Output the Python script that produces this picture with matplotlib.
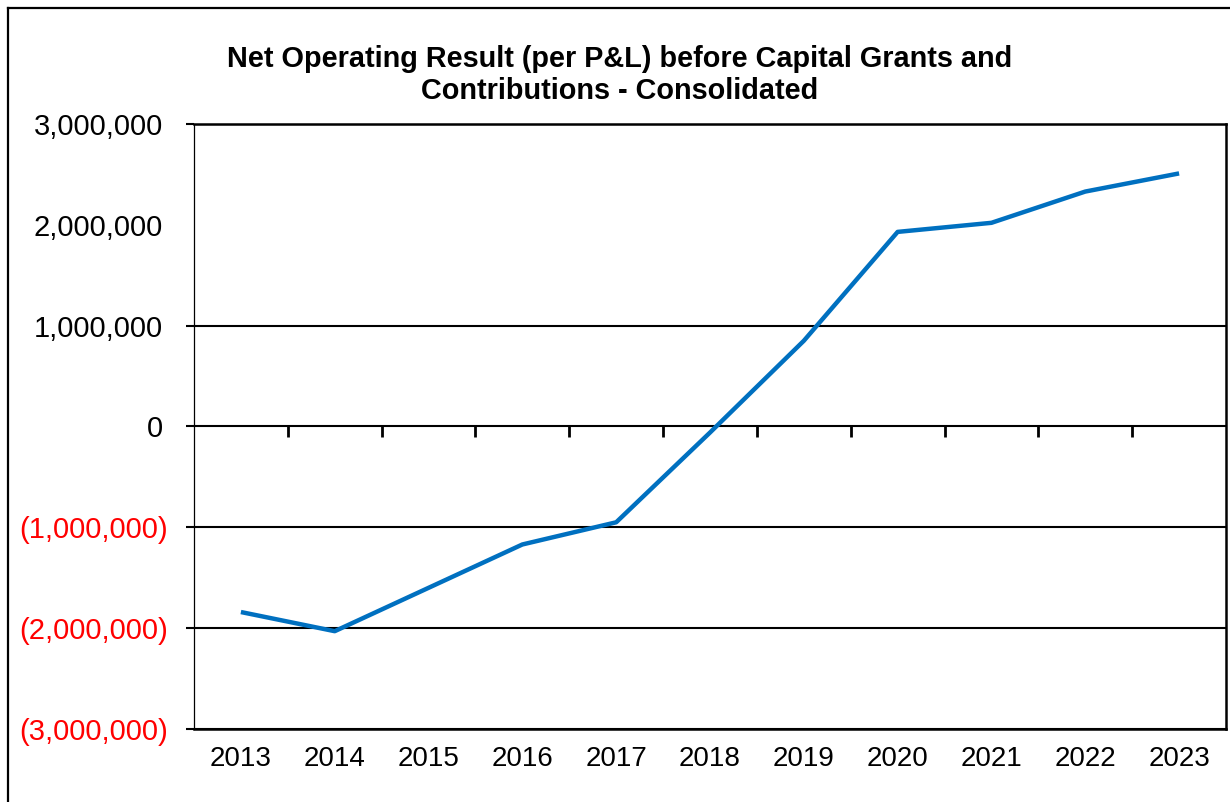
import matplotlib
matplotlib.use("Agg")
import matplotlib.pyplot as plt
from matplotlib.lines import Line2D

plt.rcParams['font.family'] = ['Liberation Sans', 'DejaVu Sans']

# data
years = ["2013", "2014", "2015", "2016", "2017", "2018", "2019", "2020", "2021", "2022", "2023"]
result = [-1840000, -2030000, -1600000, -1170000, -950000, -60000, 850000, 1930000, 2020000, 2330000, 2510000]

yticks = [-3000000, -2000000, -1000000, 0, 1000000, 2000000, 3000000]


def fmt(v):
    if v < 0:
        return "({:,.0f})".format(-v)
    return "{:,.0f}".format(v)


fig = plt.figure(figsize=(12.3, 8.02), dpi=100)
ax = fig.add_axes([194 / 1230, 73 / 802, 1032 / 1230, 605 / 802])

x = list(range(len(years)))
ax.plot(x, result, color="#0070C0", lw=3.2, solid_capstyle="butt", zorder=3)

ax.set_xlim(-0.5, len(years) - 0.5)
ax.set_ylim(-3000000, 3000000)

ax.set_xticks(x, years)
ax.tick_params(axis="x", length=0, labelsize=20, pad=12)

ax.set_yticks(yticks, [fmt(v) for v in yticks])
ax.tick_params(axis="y", length=6, width=1.5, labelsize=21)
# excel style: positive numbers leave room for the closing bracket
for tk, v in zip(ax.yaxis.get_major_ticks(), yticks):
    tk.set_pad(13 if v < 0 else 16.5)
    tk.label1.set_color("#FF0000" if v < 0 else "black")

ax.grid(axis="y", color="black", lw=1.5)
# no gridline / tick at 2,000,000 in the original
t2m = ax.yaxis.get_major_ticks()[yticks.index(2000000)]
t2m.tick1line.set_visible(False)
t2m.gridline.set_visible(False)
ax.set_axisbelow(True)

for s in ["top", "right", "bottom"]:
    ax.spines[s].set_linewidth(1.8)
ax.spines["left"].set_linewidth(0.9)

# category boundary ticks on the zero line
ax2 = ax.twiny()
ax2.set_xlim(ax.get_xlim())
for s in ax2.spines.values():
    s.set_visible(False)
ax2.xaxis.set_ticks_position("bottom")
ax2.spines["bottom"].set_position(("axes", 0.5))
ax2.set_xticks([i + 0.5 for i in x[:-1]], [""] * (len(x) - 1))
ax2.tick_params(axis="x", length=8, width=2, direction="out", color="black")

fig.text(620 / 1230, 1 - 75 / 802,
         "Net Operating Result (per P&L) before Capital Grants and\nContributions - Consolidated",
         ha="center", va="center", fontsize=20.8, fontweight="bold", linespacing=1.22)

# outer chart frame (left and top edges visible)
fig.add_artist(Line2D([8 / 1230, 8 / 1230], [0, 1 - 8 / 802], color="black", lw=1.6))
fig.add_artist(Line2D([8 / 1230, 1], [1 - 8 / 802, 1 - 8 / 802], color="black", lw=1.6))

fig.savefig("out.png", dpi=100, facecolor="white")
